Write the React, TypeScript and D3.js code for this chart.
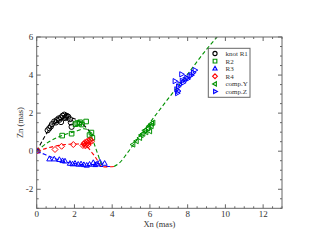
import * as d3 from "d3";

// knot R1 (open circles)
const r1X = [0.58, 0.67, 0.81, 0.93, 1.06, 1.16, 1.29, 1.37, 1.46, 1.59, 1.67, 1.76, 1.81, 1.29, 1.51, 1.02, 1.85, 0.75, 1.2, 1.55];
const r1Y = [1.1, 1.21, 1.42, 1.56, 1.63, 1.72, 1.77, 1.86, 1.92, 1.86, 1.81, 1.68, 1.51, 1.53, 1.74, 1.51, 1.28, 1.3, 1.65, 1.8];
// R2 (open squares)
const r2X = [1.35, 1.85, 2.15, 2.3, 2.62, 2.4, 2.9, 2.8, 2.95, 2.25, 2.05];
const r2Y = [0.82, 0.92, 1.48, 1.52, 1.56, 1.4, 0.98, 0.85, 0.7, 1.45, 1.42];
// R3 (triangles up)
const r3X = [0.05, 0.67, 0.93, 1.2, 1.37, 1.5, 1.76, 1.9, 2.03, 2.2, 2.35, 2.5, 2.65, 2.8, 3.0, 3.1, 3.2, 3.35, 3.6];
const r3Y = [0.0, -0.42, -0.42, -0.45, -0.51, -0.53, -0.65, -0.68, -0.65, -0.7, -0.68, -0.72, -0.75, -0.7, -0.61, -0.72, -0.68, -0.58, -0.65];
// R4 (diamonds)
const r4X = [0.05, 0.97, 1.32, 1.94, 2.45, 2.5, 2.55, 2.6, 2.65, 2.7, 2.75, 2.8, 2.85, 2.9, 2.58, 2.72];
const r4Y = [0.02, 0.09, 0.26, 0.35, 0.3, 0.38, 0.45, 0.35, 0.5, 0.42, 0.55, 0.48, 0.6, 0.52, 0.28, 0.32];
// comp.Y (triangles left)
const cyX = [5.11, 5.29, 5.47, 5.64, 5.73, 5.9, 6.08, 6.17, 6.0, 5.55, 5.8, 6.1, 5.95];
const cyY = [0.35, 0.53, 0.7, 0.92, 1.09, 1.2, 1.32, 1.5, 1.05, 0.85, 1.0, 1.45, 1.3];
// comp.Z (triangles right)
const czX = [7.32, 7.41, 7.49, 7.67, 7.76, 7.94, 8.11, 8.29, 8.38, 7.58, 7.5, 7.85, 8.0, 7.45, 8.2, 7.7];
const czY = [3.68, 3.25, 3.16, 4.04, 3.6, 3.86, 3.95, 4.13, 4.26, 3.51, 3.4, 3.75, 3.8, 3.05, 4.0, 3.7];

// dashed model tracks
const lineR1X = [0, 0.3, 0.6, 1.0, 1.5, 2.0, 2.4, 2.75, 3.0];
const lineR1Y = [0, 0.55, 1.05, 1.5, 1.75, 1.7, 1.45, 1.1, 0.8];
const lineR2X = [0, 0.5, 1.0, 1.5, 2.0, 2.5, 2.75, 2.95, 3.2, 3.45];
const lineR2Y = [0, 0.4, 0.68, 0.88, 1.02, 1.18, 1.1, 0.65, -0.05, -0.75];
const lineR3X = [0, 0.5, 1.0, 1.5, 2.0, 2.5, 3.0, 3.5, 4.0];
const lineR3Y = [0, -0.2, -0.4, -0.55, -0.65, -0.72, -0.77, -0.8, -0.8];
const lineR4X = [0, 0.5, 1.0, 1.5, 2.0, 2.4, 2.7, 2.95, 3.2, 3.4, 4.1];
const lineR4Y = [0, 0.15, 0.27, 0.35, 0.38, 0.35, 0.2, -0.1, -0.45, -0.78, -0.8];
const lineCYX = [4.1, 4.4, 4.8, 5.2, 6.0, 7.0, 8.0, 9.0, 9.6];
const lineCYY = [-0.8, -0.6, -0.1, 0.45, 1.5, 2.8, 4.05, 5.35, 6.05];

const xTicks = [0, 2, 4, 6, 8, 10, 12];
const yTicks = [-2, 0, 2, 4, 6];

const legendNames = ["knot R1", "R2", "R3", "R4", "comp.Y", "comp.Z"];

const BLACK = "#000000";
const GREEN = "#009100";
const BLUE = "#0000ff";
const RED = "#ff0000";
const FRAME = "#666666";

const W = 317;
const H = 245;
const left = 36.7;
const right = 282;
const top = 37;
const bottom = 208.3;

const shapes: Record<string, string> = {
  circle: "M2.6,0A2.6,2.6,0,1,1,-2.6,0A2.6,2.6,0,1,1,2.6,0Z",
  square: "M-2.3,-2.3H2.3V2.3H-2.3Z",
  up: "M0,-3L2.6,1.7L-2.6,1.7Z",
  diamond: "M0,-3L3,0L0,3L-3,0Z",
  left: "M-3,0L1.7,-2.6L1.7,2.6Z",
  right: "M3,0L-1.7,-2.6L-1.7,2.6Z",
};

const zip = (xs: number[], ys: number[]) => xs.map((v, i) => [v, ys[i]] as [number, number]);

export default function App() {
  const x = d3.scaleLinear().domain([0, 13]).range([left, right]);
  const y = d3.scaleLinear().domain([-3, 6]).range([bottom, top]);
  const line = d3
    .line<[number, number]>()
    .x((d) => x(d[0]))
    .y((d) => y(d[1]))
    .curve(d3.curveMonotoneX);
  const lineNat = d3
    .line<[number, number]>()
    .x((d) => x(d[0]))
    .y((d) => y(d[1]))
    .curve(d3.curveCatmullRom);

  const series = [
    { shape: "circle", color: BLACK, pts: zip(r1X, r1Y) },
    { shape: "square", color: GREEN, pts: zip(r2X, r2Y) },
    { shape: "up", color: BLUE, pts: zip(r3X, r3Y) },
    { shape: "diamond", color: RED, pts: zip(r4X, r4Y) },
    { shape: "left", color: GREEN, pts: zip(cyX, cyY) },
    { shape: "right", color: BLUE, pts: zip(czX, czY) },
  ];

  const tracks = [
    { color: BLACK, d: lineNat(zip(lineR1X, lineR1Y)) },
    { color: GREEN, d: lineNat(zip(lineR2X, lineR2Y)) },
    { color: BLUE, d: line(zip(lineR3X, lineR3Y)) },
    { color: RED, d: lineNat(zip(lineR4X, lineR4Y)) },
    { color: GREEN, d: line(zip(lineCYX, lineCYY)) },
  ];

  const xMinor = d3.range(0, 13.01, 0.5);
  const yMinor = d3.range(-3, 6.01, 0.5);
  const font = "'Liberation Serif', 'Times New Roman', serif";

  return (
    <svg width={W} height={H} style={{ position: "absolute", left: 0, top: 0, background: "#fff" }} fontFamily={font}>
      <defs>
        <clipPath id="plot">
          <rect x={left} y={top} width={right - left} height={bottom - top} />
        </clipPath>
      </defs>
      <g clipPath="url(#plot)">
        {tracks.map((t, i) => (
          <path key={i} d={t.d ?? ""} fill="none" stroke={t.color} strokeWidth={1.1} strokeDasharray="4 2.5" />
        ))}
        {series.map((s, i) =>
          s.pts.map((p, j) => (
            <path
              key={`${i}-${j}`}
              d={shapes[s.shape]}
              transform={`translate(${x(p[0])},${y(p[1])})`}
              fill="none"
              stroke={s.color}
              strokeWidth={1}
            />
          )),
        )}
      </g>
      {/* ticks on all four sides, pointing in */}
      <g stroke={FRAME} strokeWidth={1}>
        {xMinor.map((v) => {
          const major = v % 2 === 0;
          const len = major ? 4 : 2;
          return (
            <g key={`xt${v}`}>
              <line x1={x(v)} x2={x(v)} y1={bottom} y2={bottom - len} />
              <line x1={x(v)} x2={x(v)} y1={top} y2={top + len} />
            </g>
          );
        })}
        {yMinor.map((v) => {
          const major = v % 2 === 0;
          const len = major ? 4 : 2;
          return (
            <g key={`yt${v}`}>
              <line x1={left} x2={left + len} y1={y(v)} y2={y(v)} />
              <line x1={right} x2={right - len} y1={y(v)} y2={y(v)} />
            </g>
          );
        })}
      </g>
      <rect x={left} y={top} width={right - left} height={bottom - top} fill="none" stroke={FRAME} strokeWidth={1} />
      {xTicks.map((v) => (
        <text key={`xl${v}`} x={x(v)} y={bottom + 9} textAnchor="middle" fontSize={9} fill="#333">
          {v}
        </text>
      ))}
      {yTicks.map((v) => (
        <text key={`yl${v}`} x={left - 3.5} y={y(v) + 3} textAnchor="end" fontSize={9} fill="#333">
          {v < 0 ? `-${Math.abs(v)}` : v}
        </text>
      ))}
      <text x={(left + right) / 2} y={227} textAnchor="middle" fontSize={8.5} fill="#333">
        Xn (mas)
      </text>
      <text
        transform={`translate(23,${(top + bottom) / 2}) rotate(-90)`}
        textAnchor="middle"
        fontSize={8.5}
        fill="#333"
      >
        Zn (mas)
      </text>
      <g>
        <rect x={208.3} y={48.3} width={41.7} height={49} fill="#fff" stroke={FRAME} strokeWidth={1} />
        {series.map((s, i) => (
          <g key={`lg${i}`} transform={`translate(215,${53.5 + i * 7.6})`}>
            <path d={shapes[s.shape]} transform="scale(0.8)" fill="none" stroke={s.color} strokeWidth={1.4} />
            <text x={10.5} y={2.5} fontSize={7} fill="#333">
              {legendNames[i]}
            </text>
          </g>
        ))}
      </g>
    </svg>
  );
}
